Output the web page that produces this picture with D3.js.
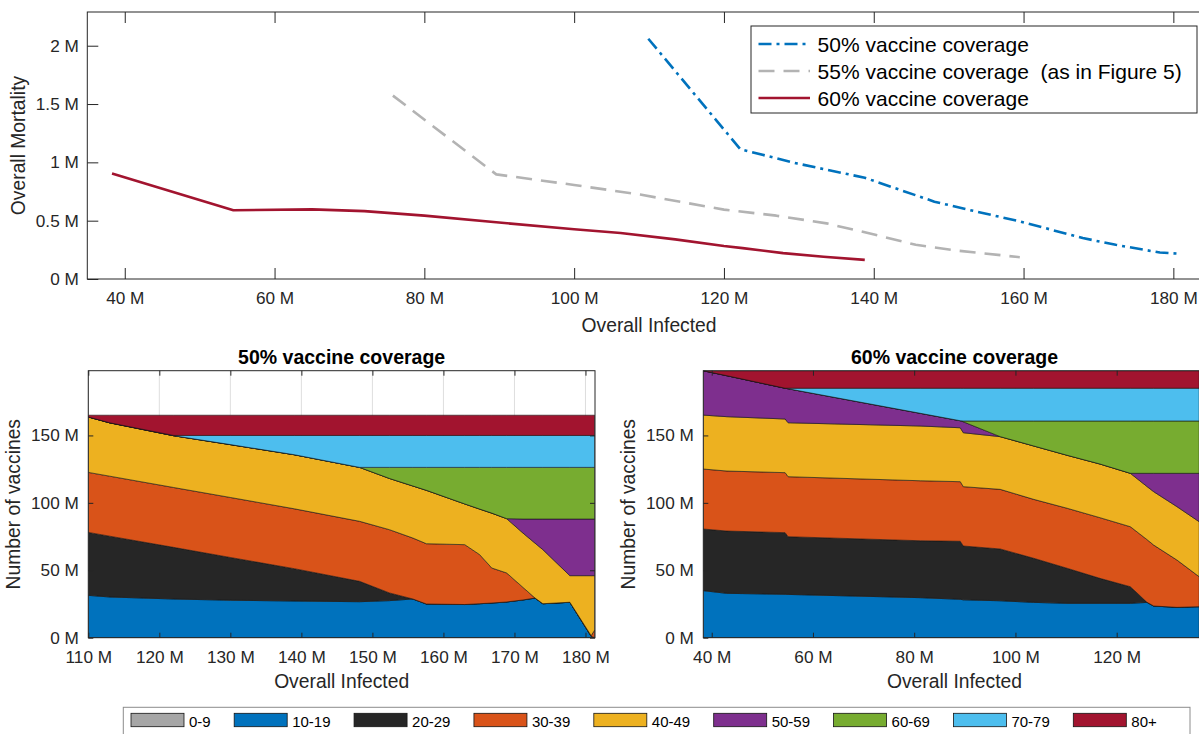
<!DOCTYPE html>
<html><head><meta charset="utf-8">
<script src="https://cdn.jsdelivr.net/npm/d3@7"></script>
<style>
body{margin:0;background:#fff;}
svg{display:block;font-family:"Liberation Sans",Arial,Helvetica,sans-serif;}
</style></head><body>
<svg id="chart" width="1199" height="734"></svg>
<script>
// ---------------- DATA ----------------
const ageGroups = ["0-9","10-19","20-29","30-39","40-49","50-59","60-69","70-79","80+"];
const ageColors = ["#a6a6a6","#0072bd","#262626","#d95319","#edb120","#7e2f8e","#77ac30","#4dbeee","#a2142f"];

const coverageLabels = ["50% vaccine coverage","55% vaccine coverage  (as in Figure 5)","60% vaccine coverage"];
const coverageColors = ["#0072bd","#b3b3b3","#a2142f"];
const coverageDash = ["13,5,3,5","16,9",null];

// top panel: overall infected (M) vs overall mortality (M)
const infected50 = [109.9,122.2,129.8,138.8,148.1,152.9,159.5,167.9,172.3,178.2,181.0];
const mortality50 = [2.06,1.112,0.99,0.868,0.663,0.59,0.494,0.351,0.293,0.227,0.216];
const infected55 = [75.8,89.6,100,108.8,120,127,133.7,140.2,145.6,151.2,159.5];
const mortality55 = [1.572,0.897,0.806,0.724,0.595,0.543,0.477,0.379,0.293,0.243,0.187];
const infected60 = [38.3,54.5,65,72,80,89.6,100,106.2,113.5,120,122.5,127.9,133.3,138.8];
const mortality60 = [0.905,0.589,0.597,0.582,0.543,0.486,0.426,0.395,0.34,0.283,0.265,0.222,0.191,0.164];

const topXTicks = [40,60,80,100,120,140,160,180];
const topYTicks = [0,0.5,1,1.5,2];

// bottom-left panel: 50% coverage, vaccines (M) per age group
const stackInf50 = [110,113,122,130,139,148.2,152.4,155.7,157.6,163,165.1,166.8,168.9,171.2,172.9,174,177.8,180.8,181.3];
const v50_0_9   = [0,0,0,0,0,0,0,0,0,0,0,0,0,0,0,0,0,0,0];
const v50_10_19 = [31.4,30.2,28.7,27.8,27.2,26.7,27.5,28.7,25.0,24.6,25.2,25.7,26.5,28.0,29.4,25.2,26.3,1.0,0];
const v50_20_29 = [46.7,45.1,38.3,31.7,24.0,15.1,5.7,0,0,0,0,0,0,0,0,0,0,0,0];
const v50_30_39 = [44.5,44.5,44.4,44.5,44.4,44.5,46.9,45.2,44.7,44.4,36.4,26.0,21.5,9.3,0,0,0,0.5,5.7];
const v50_40_49 = [41.1,39.6,38.4,39.2,40.1,40.0,38.0,38.6,39.6,30.2,33.8,40.7,40.3,40.3,40.7,40.1,19.7,44.5,40.3];
const v50_50_59 = [0,0,0,0,0,0,0,0,0,0,0,0,0,10.4,17.9,22.7,42,42,42];
const v50_60_69 = [0,0,0,0,0,0,8.2,13.8,17.0,27.1,30.9,33.9,38.0,38.3,38.3,38.3,38.3,38.3,38.3];
const v50_70_79 = [0,0,0.2,6.8,14.3,23.7,23.7,23.7,23.7,23.7,23.7,23.7,23.7,23.7,23.7,23.7,23.7,23.7,23.7];
const v50_80    = [1.3,5.6,15,15,15,15,15,15,15,15,15,15,15,15,15,15,15,15,15];

// bottom-right panel: 60% coverage
const stackInf60 = [38.3,43,54.5,55.1,81.2,89.1,89.7,97,103.6,110.2,116.7,122.7,126,127.3,131.9,136.3];
const v60_0_9   = [0,0,0,0,0,0,0,0,0,0,0,0,0,0,0,0];
const v60_10_19 = [34.9,32.9,32.2,32.1,29.7,28.5,28.1,27.4,26.2,25.5,25.5,25.5,26.2,23.5,22.5,23.0];
const v60_20_29 = [45.7,46.2,45.7,42.8,42.2,43.0,39.9,38.4,32.7,26.0,18.5,12.3,0,0,0,0];
const v60_30_39 = [44.5,44.5,44.5,44.5,44.5,44.2,44.0,44.2,43.7,44.5,45.0,44.5,46.5,45.2,35.1,22.2];
const v60_40_49 = [40.0,40.3,39.8,40.0,40.6,40.0,40.0,39.1,39.6,39.3,39.8,39.6,39.4,39.6,39.6,40.8];
const v60_50_59 = [32.9,30.4,22.8,25.2,9.4,5.2,8.1,0,0,0,0,0,9.8,13.6,24.7,35.9];
const v60_60_69 = [0,0,0,0,0,0,0.6,11.6,18.5,25.4,31.9,38.8,38.8,38.8,38.8,38.8];
const v60_70_79 = [0,0,0,0.4,18.6,24.1,24.3,24.3,24.3,24.3,24.3,24.3,24.3,24.3,24.3,24.3];
const v60_80    = [0,3.7,13,13,13,13,13,13,13,13,13,13,13,13,13,13];

const leftXTicks = [110,120,130,140,150,160,170,180];
const rightXTicks = [40,60,80,100,120];
const vacYTicks = [0,50,100,150];

// ---------------- DRAWING ----------------
const svg = d3.select("#chart");
const INK = "#262626";
const TICK_FS = 17.2, LABEL_FS = 19.3;
const fmtM = d => d + " M";

function styleAxis(g, fs){
  g.attr("font-family", null).attr("font-size", null);
  g.select(".domain").remove();
  g.selectAll("line").attr("stroke", INK).attr("stroke-width", 1);
  g.selectAll("text").attr("fill", INK).style("font-size", fs + "px");
}

// ===== Top panel =====
const T = {l:87.3, r:1210.8, t:12, b:279};
const xT = d3.scaleLinear().domain([35,185]).range([T.l, T.r]);
const yT = d3.scaleLinear().domain([0,2.289]).range([T.b, T.t]);
const gT = svg.append("g");

gT.append("g").attr("transform", `translate(0,${T.b})`)
  .call(d3.axisBottom(xT).tickValues(topXTicks).tickFormat(fmtM).tickSizeInner(-11).tickSizeOuter(0).tickPadding(13))
  .call(styleAxis, TICK_FS);
gT.append("g").attr("transform", `translate(0,${T.t})`)
  .call(d3.axisTop(xT).tickValues(topXTicks).tickFormat("").tickSizeInner(-11).tickSizeOuter(0))
  .call(styleAxis, TICK_FS);
gT.append("g").attr("transform", `translate(${T.l},0)`)
  .call(d3.axisLeft(yT).tickValues(topYTicks).tickFormat(fmtM).tickSizeInner(-11).tickSizeOuter(0).tickPadding(8.5))
  .call(styleAxis, TICK_FS);
gT.append("rect").attr("x", T.l).attr("y", T.t).attr("width", T.r - T.l).attr("height", T.b - T.t)
  .attr("fill", "none").attr("stroke", INK).attr("stroke-width", 1);

const topSeries = [
  d3.zip(infected50, mortality50),
  d3.zip(infected55, mortality55),
  d3.zip(infected60, mortality60)
];
const lineT = d3.line().x(d => xT(d[0])).y(d => yT(d[1]));
topSeries.forEach((s, i) => {
  gT.append("path").attr("d", lineT(s)).attr("fill", "none")
    .attr("stroke", coverageColors[i]).attr("stroke-width", 2.6)
    .attr("stroke-dasharray", coverageDash[i]).attr("stroke-linejoin", "round");
});

gT.append("text").attr("x", (T.l + T.r) / 2).attr("y", 332).attr("text-anchor", "middle")
  .attr("fill", INK).style("font-size", LABEL_FS + "px").text("Overall Infected");
gT.append("text").attr("transform", `translate(25,${(T.t + T.b) / 2}) rotate(-90)`).attr("text-anchor", "middle")
  .attr("fill", INK).style("font-size", LABEL_FS + "px").text("Overall Mortality");

// top legend
const LT = {x:751, y:26, w:446, h:87, row:27};
const gLT = gT.append("g");
gLT.append("rect").attr("x", LT.x).attr("y", LT.y).attr("width", LT.w).attr("height", LT.h)
  .attr("fill", "#fff").attr("stroke", INK).attr("stroke-width", 1);
coverageLabels.forEach((lab, i) => {
  const cy = LT.y + 18 + i * LT.row;
  gLT.append("line").attr("x1", LT.x + 7.5).attr("x2", LT.x + 59).attr("y1", cy).attr("y2", cy)
    .attr("stroke", coverageColors[i]).attr("stroke-width", 2.6).attr("stroke-dasharray", coverageDash[i]);
  gLT.append("text").attr("x", LT.x + 66.6).attr("y", cy + 7.5).attr("fill", "#000")
    .style("font-size", "21px").style("white-space", "pre").text(lab);
});

// ===== Bottom panels =====
function drawStack(cfg){
  const x = d3.scaleLinear().domain(cfg.xDomain).range([cfg.l, cfg.r]);
  const y = d3.scaleLinear().domain([0,198]).range([cfg.b, cfg.t]);
  const g = svg.append("g");
  const clipId = cfg.id + "-clip";
  g.append("clipPath").attr("id", clipId).append("rect")
    .attr("x", cfg.l).attr("y", cfg.t).attr("width", cfg.r - cfg.l).attr("height", cfg.b - cfg.t);

  // grid
  g.append("g").selectAll("line").data(cfg.xTicks).join("line")
    .attr("x1", d => x(d)).attr("x2", d => x(d)).attr("y1", cfg.t).attr("y2", cfg.b)
    .attr("stroke", "#dedede").attr("stroke-width", 1);

  const rows = cfg.infected.map((xv, i) => {
    const o = {x: xv};
    ageGroups.forEach((a, k) => o[a] = cfg.series[k][i]);
    return o;
  });
  const stacked = d3.stack().keys(ageGroups)(rows);
  const area = d3.area().x(d => x(d.data.x)).y0(d => y(d[0])).y1(d => y(d[1]));
  g.append("g").attr("clip-path", `url(#${clipId})`).selectAll("path").data(stacked).join("path")
    .attr("d", area).attr("fill", (d, i) => ageColors[i])
    .attr("stroke", "#151515").attr("stroke-width", 0.6).attr("stroke-linejoin", "round");

  g.append("g").attr("transform", `translate(0,${cfg.b})`)
    .call(d3.axisBottom(x).tickValues(cfg.xTicks).tickFormat(fmtM).tickSizeInner(-5).tickSizeOuter(0).tickPadding(13.6))
    .call(styleAxis, TICK_FS);
  g.append("g").attr("transform", `translate(0,${cfg.t})`)
    .call(d3.axisTop(x).tickValues(cfg.xTicks).tickFormat("").tickSizeInner(-5).tickSizeOuter(0))
    .call(styleAxis, TICK_FS);
  g.append("g").attr("transform", `translate(${cfg.l},0)`)
    .call(d3.axisLeft(y).tickValues(vacYTicks).tickFormat(fmtM).tickSizeInner(-5).tickSizeOuter(0).tickPadding(9.5))
    .call(styleAxis, TICK_FS);
  g.append("g").attr("transform", `translate(${cfg.r},0)`)
    .call(d3.axisRight(y).tickValues(vacYTicks).tickFormat("").tickSizeInner(-5).tickSizeOuter(0))
    .call(styleAxis, TICK_FS);
  g.append("rect").attr("x", cfg.l).attr("y", cfg.t).attr("width", cfg.r - cfg.l).attr("height", cfg.b - cfg.t)
    .attr("fill", "none").attr("stroke", INK).attr("stroke-width", 1);

  const cx = (cfg.l + cfg.r) / 2;
  g.append("text").attr("x", cx).attr("y", 364).attr("text-anchor", "middle").attr("fill", "#000")
    .style("font-size", "19.5px").style("font-weight", "bold").text(cfg.title);
  g.append("text").attr("x", cx).attr("y", 688).attr("text-anchor", "middle").attr("fill", INK)
    .style("font-size", LABEL_FS + "px").text("Overall Infected");
  g.append("text").attr("transform", `translate(${cfg.l - 68.8},${(cfg.t + cfg.b) / 2}) rotate(-90)`)
    .attr("text-anchor", "middle").attr("fill", INK).style("font-size", LABEL_FS + "px").text("Number of vaccines");
}

drawStack({id:"p50", l:88.3, r:595, t:370.7, b:637.7, xDomain:[110,181.34], xTicks:leftXTicks,
  infected: stackInf50, title: "50% vaccine coverage",
  series:[v50_0_9,v50_10_19,v50_20_29,v50_30_39,v50_40_49,v50_50_59,v50_60_69,v50_70_79,v50_80]});
drawStack({id:"p60", l:703.3, r:1205.7, t:370.7, b:637.7, xDomain:[38.34,137.58], xTicks:rightXTicks,
  infected: stackInf60, title: "60% vaccine coverage",
  series:[v60_0_9,v60_10_19,v60_20_29,v60_30_39,v60_40_49,v60_50_59,v60_60_69,v60_70_79,v60_80]});

// ===== Bottom legend =====
const LB = {x:123.3, y:707.3, w:1066.7, h:40, sw:53, sh:13.4};
const gLB = svg.append("g");
gLB.append("rect").attr("x", LB.x).attr("y", LB.y).attr("width", LB.w).attr("height", LB.h)
  .attr("fill", "#fff").attr("stroke", "#8c8c8c").attr("stroke-width", 1);
let cursor = LB.x + 7.7;
ageGroups.forEach((a, i) => {
  gLB.append("rect").attr("x", cursor).attr("y", LB.y + 6).attr("width", LB.sw).attr("height", LB.sh)
    .attr("fill", ageColors[i]).attr("stroke", "#151515").attr("stroke-width", 0.8);
  const t = gLB.append("text").attr("x", cursor + LB.sw + 5).attr("y", LB.y + 19.3).attr("fill", "#000")
    .style("font-size", "15px").text(a);
  cursor += LB.sw + 5 + t.node().getComputedTextLength() + 23.5;
});
</script>
</body></html>
